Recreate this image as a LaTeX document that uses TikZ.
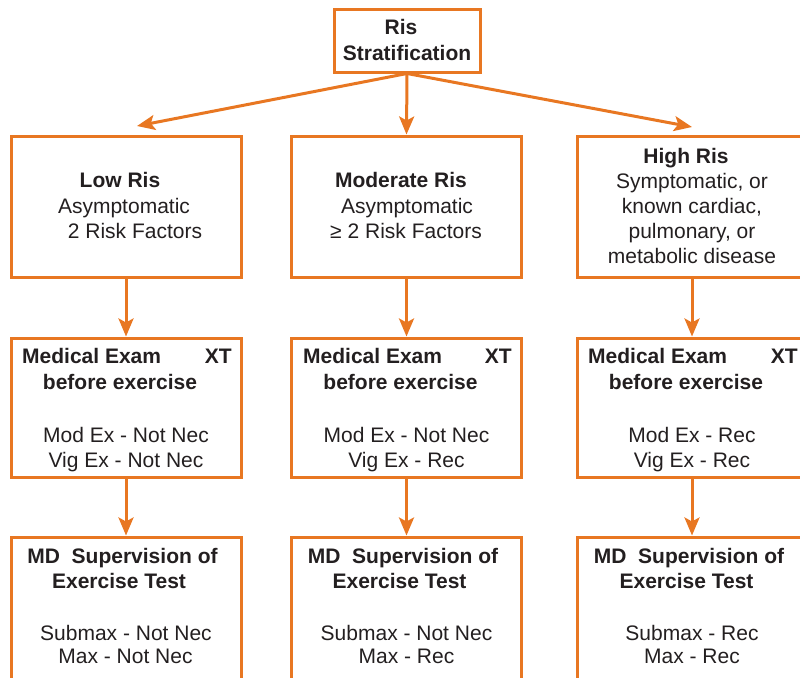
\documentclass[tikz,border=0pt]{standalone}
\usepackage{fontspec}
\setmainfont{Liberation Sans}
\usetikzlibrary{arrows.meta}
\definecolor{orng}{RGB}{232,119,34}
\definecolor{txtc}{RGB}{35,31,32}
\begin{document}
\begin{tikzpicture}[x=1pt,y=-1pt,
  box/.style={draw=orng,line width=3pt,inner sep=0pt,rectangle},
  conn/.style={draw=orng,line width=3pt,-{Stealth[length=18pt,width=15pt,inset=4pt]}},
  txtn/.style={anchor=base,text=txtc,inner sep=0pt,font=\fontsize{21}{25}\selectfont},
  txtb/.style={txtn,font=\fontsize{21}{25}\selectfont\bfseries}]
\useasboundingbox (0,0) rectangle (800,677);
\clip (0,0) rectangle (800,677);
% boxes
\node[box,minimum width=146pt,minimum height=62pt] (top) at (407,41) {};
\node[box,minimum width=230pt,minimum height=141pt] (low1) at (126,206.5) {};
\node[box,minimum width=230pt,minimum height=141pt] (mod1) at (406.5,206.5) {};
\node[box,minimum width=230pt,minimum height=141pt] (high1) at (692,206.5) {};
\node[box,minimum width=230pt,minimum height=139pt] (low2) at (126,407.5) {};
\node[box,minimum width=230pt,minimum height=139pt] (mod2) at (406.5,407.5) {};
\node[box,minimum width=230pt,minimum height=139pt] (high2) at (692,407.5) {};
\node[box,minimum width=230pt,minimum height=183pt] (low3) at (126,628.5) {};
\node[box,minimum width=230pt,minimum height=183pt] (mod3) at (406.5,628.5) {};
\node[box,minimum width=230pt,minimum height=183pt] (high3) at (692,628.5) {};
% connectors
\coordinate (ltip) at (137,126);
\coordinate (rtip) at (692,127);
\draw[conn] (top.south) -- (ltip);
\draw[conn] (top.south) -- (mod1.north);
\draw[conn] (top.south) -- (rtip);
\draw[conn] (low1.south) -- (low2.north);
\draw[conn] (mod1.south) -- (mod2.north);
\draw[conn] (high1.south) -- (high2.north);
\draw[conn] (low2.south) -- (low3.north);
\draw[conn] (mod2.south) -- (mod3.north);
\draw[conn] (high2.south) -- (high3.north);
% top text
\node[txtb] (ta) at (401,35) {Ris};
\node[txtb] (tb) at (407,60) {Stratification};
% row 1
\node[txtb] (l1a) at (120,187) {Low Ris};
\node[txtn] (l1b) at (124,213) {Asymptomatic};
\node[txtn] (l1c) at (135,238) {2 Risk Factors};
\node[txtb] (m1a) at (401,187) {Moderate Ris};
\node[txtn] (m1b) at (407,213) {Asymptomatic};
\node[txtn] (m1c) at (406,238) {≥ 2 Risk Factors};
\node[txtb] (h1a) at (686,163) {High Ris};
\node[txtn] (h1b) at (692,188) {Symptomatic, or};
\node[txtn] (h1c) at (692,213) {known cardiac,};
\node[txtn] (h1d) at (692,238) {pulmonary, or};
\node[txtn] (h1e) at (692,263) {metabolic disease};
% row 2
\node[txtb,anchor=base west] (l2a) at (22,363) {Medical Exam};
\node[txtb,anchor=base east] (l2x) at (232,363) {XT};
\node[txtb] (l2b) at (120,389) {before exercise};
\node[txtn] (l2c) at (126,442) {Mod Ex - Not Nec};
\node[txtn] (l2d) at (126,467) {Vig Ex - Not Nec};
\node[txtb,anchor=base west] (m2a) at (303,363) {Medical Exam};
\node[txtb,anchor=base east] (m2x) at (512,363) {XT};
\node[txtb] (m2b) at (400.5,389) {before exercise};
\node[txtn] (m2c) at (406.5,442) {Mod Ex - Not Nec};
\node[txtn] (m2d) at (406.5,467) {Vig Ex - Rec};
\node[txtb,anchor=base west] (h2a) at (588,363) {Medical Exam};
\node[txtb,anchor=base east] (h2x) at (798,363) {XT};
\node[txtb] (h2b) at (686,389) {before exercise};
\node[txtn] (h2c) at (692,442) {Mod Ex - Rec};
\node[txtn] (h2d) at (692,467) {Vig Ex - Rec};
% row 3
\node[txtb] (l3a) at (122.5,563) {MD\ \ Supervision of};
\node[txtb] (l3b) at (119,588) {Exercise Test};
\node[txtn] (l3c) at (126,640) {Submax - Not Nec};
\node[txtn] (l3d) at (125.5,663) {Max - Not Nec};
\node[txtb] (m3a) at (403,563) {MD\ \ Supervision of};
\node[txtb] (m3b) at (399.5,588) {Exercise Test};
\node[txtn] (m3c) at (406.5,640) {Submax - Not Nec};
\node[txtn] (m3d) at (406.5,663) {Max - Rec};
\node[txtb] (h3a) at (689,563) {MD\ \ Supervision of};
\node[txtb] (h3b) at (686.5,588) {Exercise Test};
\node[txtn] (h3c) at (692,640) {Submax - Rec};
\node[txtn] (h3d) at (692,663) {Max - Rec};
\end{tikzpicture}
\end{document}
